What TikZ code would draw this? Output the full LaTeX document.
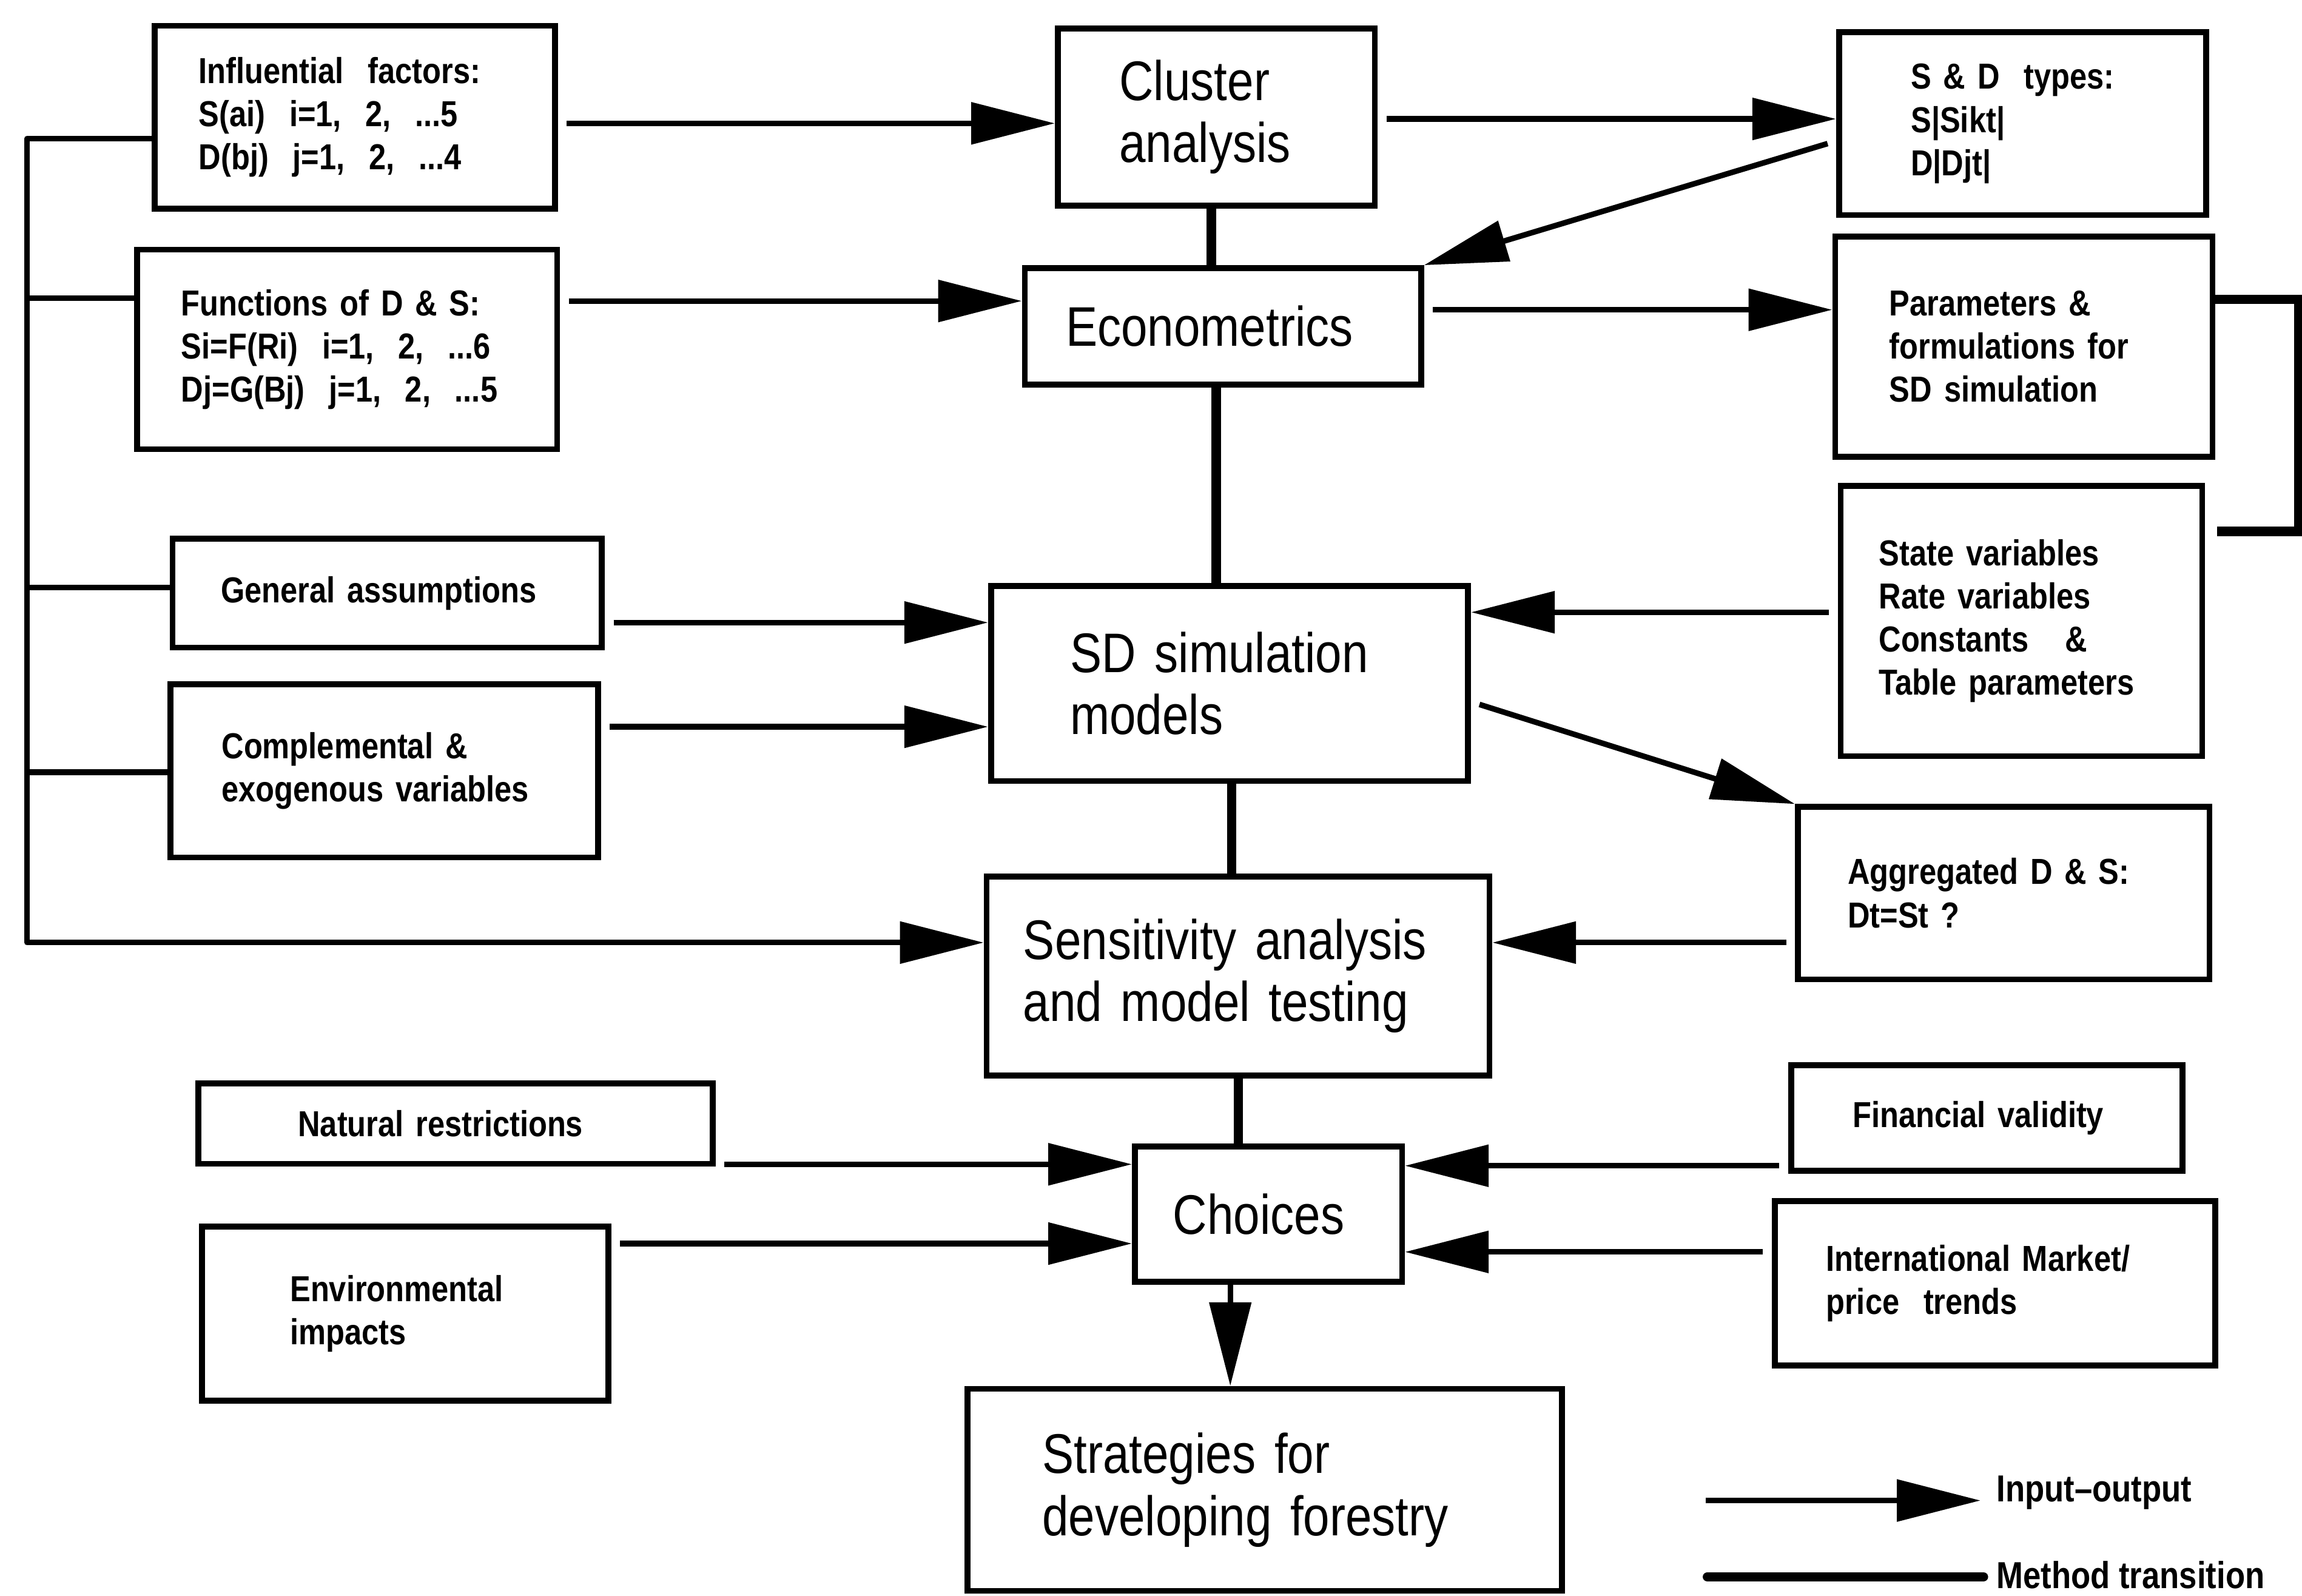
\documentclass[tikz,border=0pt]{standalone}
\usepackage{fontspec}
\setmainfont{Liberation Sans}
\newfontfamily\bigf{Liberation Sans}[FakeStretch=0.85]
\newfontfamily\smf{Liberation Sans}[FakeStretch=0.85]
\usetikzlibrary{arrows.meta}
\begin{document}
\begin{tikzpicture}[x=0.5pt,y=-0.5pt,
  box/.style={draw, line width=2pt, align=left, inner ysep=0pt},
  bigt/.style={font=\bigf\fontsize{19}{21.2}\selectfont},
  smt/.style={font=\smf\bfseries\fontsize{12.3}{14.7}\selectfont},
  ioline/.style={line width=1.9pt, line join=round},
  io/.style={line width=1.9pt, line join=round, -{Triangle[length=28.5pt,width=14pt]}, shorten <=3pt},
  meth/.style={line width=3.2pt},
]
\useasboundingbox (0,0) rectangle (1568,1087);

% ---- boxes ----
\node[box, smt, inner xsep=15pt, text width=106.3pt, minimum height=62.25pt] (inf) at (241.7,79.75)
  {Influential\ \ factors:\\S(ai)\ \ i=1,\ \ 2,\ \ ...5\\D(bj)\ \ j=1,\ \ 2,\ \ ...4};
\node[box, bigt, inner xsep=21pt, text width=66pt, minimum height=60.3pt] (clu) at (828.5,79.7)
  {Cluster\\analysis};
\node[box, smt, inner xsep=24.5pt, text width=76pt, minimum height=62.25pt] (sdt) at (1377.6,84.25)
  {S \& D\ \ types:\\S|Sikt|\\D|Djt|};
\node[box, smt, inner xsep=15pt, text width=113pt, minimum height=68pt] (fun) at (236.5,238)
  {Functions of D \& S:\\Si=F(Ri)\ \ i=1,\ \ 2,\ \ ...6\\Dj=G(Bj)\ \ j=1,\ \ 2,\ \ ...5};
\node[box, bigt, inner xsep=14pt, text width=107pt, minimum height=39.7pt] (eco) at (833,222.3)
  {Econometrics};
\node[box, smt, inner xsep=18.5pt, text width=91.5pt, minimum height=75pt] (par) at (1378.5,236)
  {Parameters \&\\formulations for\\SD simulation};
\node[box, smt, inner xsep=16.5pt, text width=113.25pt, minimum height=37pt] (gen) at (263.75,404)
  {General assumptions};
\node[box, bigt, inner xsep=27pt, text width=108.5pt, minimum height=66.5pt] (sds) at (837.5,465.5)
  {SD simulation\\models};
\node[box, smt, inner xsep=13pt, text width=97.1pt, minimum height=92pt] (sta) at (1376.9,423)
  {State variables\\Rate variables\\Constants\ \ \ \&\\Table parameters};
\node[box, smt, inner xsep=17.5pt, text width=110.7pt, minimum height=59pt] (com) at (261.7,525)
  {Complemental \&\\exogenous variables};
\node[box, smt, inner xsep=17pt, text width=106.2pt, minimum height=58.7pt] (agg) at (1364.8,608.3)
  {Aggregated D \& S:\\Dt=St ?};
\node[box, bigt, inner xsep=12.5pt, text width=146.25pt, minimum height=67.75pt] (sen) at (843.25,664.75)
  {Sensitivity analysis\\and model testing};
\node[box, smt, inner xsep=34pt, text width=107.2pt, minimum height=27.3pt] (nat) at (310.2,765.3)
  {Natural restrictions};
\node[box, smt, inner xsep=21pt, text width=91.25pt, minimum height=36pt] (fin) at (1353.25,761.4)
  {Financial validity};
\node[box, bigt, inner xsep=13pt, text width=65pt, minimum height=46pt] (cho) at (864,827)
  {Choices};
\node[box, smt, inner xsep=30pt, text width=78.35pt, minimum height=59.25pt] (env) at (275.95,894.75)
  {Environmental\\impacts};
\node[box, smt, inner xsep=17.5pt, text width=115.1pt, minimum height=56pt] (int) at (1358.9,874)
  {International Market/\\price\ \ trends};
\node[box, bigt, inner xsep=25.5pt, text width=151.5pt, minimum height=68.75pt] (str) at (861.5,1014.75)
  {Strategies for\\developing forestry};

% ---- input-output connectors ----
\draw[io] (inf.east |- 0,84) -- (clu.west |- 0,84);
\draw[io] (clu.east |- 0,81) -- (sdt.west |- 0,81);
\draw[io] ([yshift=-5.9pt]sdt.west) -- (eco.north east);
\draw[io] (fun.east |- 0,205) -- (eco.west |- 0,205);
\draw[io] (eco.east |- 0,211) -- (par.west |- 0,211);
\draw[io] (gen.east |- 0,424) -- (sds.west |- 0,424);
\draw[io] (com.east |- 0,495) -- (sds.west |- 0,495);
\draw[io] (sta.west |- 0,417) -- (sds.east |- 0,417);
\draw[io] ([yshift=-6.25pt]sds.east) -- (agg.north west);
\draw[io] (agg.west |- 0,642) -- (sen.east |- 0,642);
\draw[io] (nat.east |- 0,793) -- (cho.west |- 0,793);
\draw[io] (env.east |- 0,847) -- (cho.west |- 0,847);
\draw[io] (fin.west |- 0,794) -- (cho.east |- 0,794);
\draw[io] (int.west |- 0,852.7) -- (cho.east |- 0,852.7);
\draw[io, shorten <=0pt] (cho.south -| 838,0) -- (str.north -| 838,0);

% ---- left bus ----
\coordinate (bt) at (18.4,94.5);
\coordinate (bb) at (18.4,642);
\draw[io, shorten <=0pt] (inf.west |- bt) -- (bt) -- (bb) -- (sen.west |- bb);
\draw[ioline] (bt |- 0,203) -- (fun.west |- 0,203);
\draw[ioline] (bt |- 0,400) -- (gen.west |- 0,400);
\draw[ioline] (bt |- 0,526) -- (com.west |- 0,526);

% ---- method transitions ----
\draw[meth] (clu.south -| 825,0) -- (eco.north -| 825,0);
\draw[meth] (eco.south -| 828.5,0) -- (sds.north -| 828.5,0);
\draw[meth] (sds.south -| 839,0) -- (sen.north -| 839,0);
\draw[meth] (sen.south -| 843.5,0) -- (cho.north -| 843.5,0);

% ---- right bracket ----
\coordinate (brt) at (1566,204);
\coordinate (brb) at (1566,362);
\draw[meth, shorten >=4pt] (par.east |- brt) -- (brt) -- (brb) -- (sta.east |- brb);

% ---- legend ----
\coordinate (la) at (1162,1022);
\coordinate (lb) at (1349,1022);
\coordinate (lc) at (1163,1074);
\coordinate (ld) at (1351,1074);
\draw[io, shorten <=0pt] (la) -- (lb);
\draw[meth, line cap=round] (lc) -- (ld);
\node[font=\smf\bfseries\fontsize{12.8}{14}\selectfont, anchor=base west, inner sep=0pt] (lt1) at (1359.6,1022.7) {Input–output};
\node[font=\smf\bfseries\fontsize{12.8}{14}\selectfont, anchor=base west, inner sep=0pt] (lt2) at (1359.6,1082) {Method transition};
\end{tikzpicture}
\end{document}
